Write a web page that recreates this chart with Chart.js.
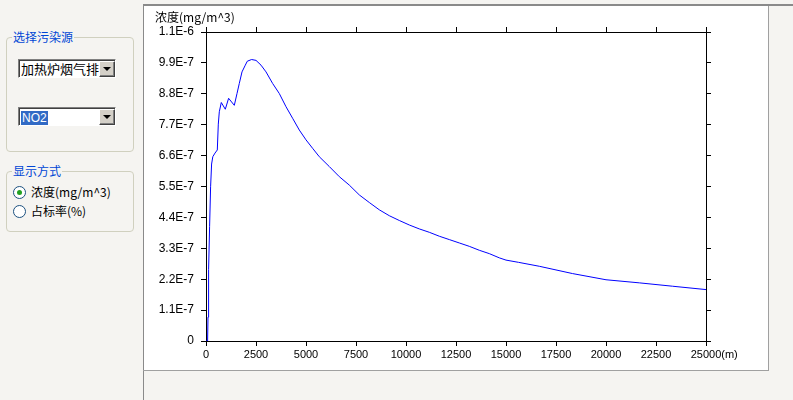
<!DOCTYPE html>
<html>
<head>
<meta charset="utf-8">
<script src="https://cdn.jsdelivr.net/npm/chart.js@4.4.1/dist/chart.umd.min.js"></script>
<style>
  html, body { margin: 0; padding: 0; }
  body {
    width: 793px; height: 400px; overflow: hidden; position: relative;
    background: #f5f4f1;
    font-family: "Noto Sans CJK SC", "Liberation Sans", Arial, sans-serif;
    font-size: 12px;
  }
  .group {
    position: absolute; left: 6px; width: 126px;
    border: 1px solid #d0d0bf; border-radius: 4px;
  }
  .group .caption {
    position: absolute; left: 5px; top: -9px; padding: 0 1px;
    background: #f5f4f1; color: #0046d5; line-height: 16px; font-size: 12px;
  }
  .combo {
    position: absolute; left: 18px; width: 96px; height: 17px;
    background: #fff;
    border-top: 1px solid #808080; border-left: 1px solid #808080;
    border-right: 1px solid #fff; border-bottom: 1px solid #fff;
    box-shadow: inset 1px 1px 0 #404040;
    overflow: hidden;
  }
  .combo .text {
    position: absolute; left: 2px; top: 0; line-height: 17px;
    white-space: nowrap; font-size: 13px; color: #000;
  }
  .combo .sel {
    background: #316ac5; color: #fff; font-family: "Liberation Sans", Arial, sans-serif;
    font-size: 12px; padding: 0 1px;
  }
  .combo .btn {
    position: absolute; right: 0; top: 1px; width: 14px; height: 14px;
    background: #d4d0c8;
    border-top: 1px solid #fff; border-left: 1px solid #fff;
    border-right: 1px solid #404040; border-bottom: 1px solid #404040;
    box-shadow: inset -1px -1px 0 #808080;
  }
  .combo .btn:after {
    content: ""; position: absolute; left: 3px; top: 5px;
    border-left: 4px solid transparent; border-right: 4px solid transparent;
    border-top: 4px solid #000;
  }
  .radio { position: absolute; left: 13px; height: 14px; }
  .radio .dot {
    position: absolute; left: 0; top: 0; width: 11px; height: 11px;
    border: 1px solid #1c5180; border-radius: 50%; background: #fff;
  }
  .radio .dot.on:after {
    content: ""; position: absolute; left: 3px; top: 3px; width: 5px; height: 5px;
    border-radius: 50%; background: #21a121;
  }
  .radio .lbl { position: absolute; left: 18px; top: -3px; line-height: 18px; white-space: nowrap; font-size: 12px; }
  #frameTop { position: absolute; left: 143px; top: 4px; width: 650px; height: 2px; background: #8a8a8a; }
  #frameLeft { position: absolute; left: 143px; top: 4px; width: 1px; height: 396px; background: #8a8a8a; }
  #frameBottom { position: absolute; left: 143px; top: 370px; width: 626px; height: 1px; background: #a0a0a0; }
  #panel {
    position: absolute; left: 144px; top: 6px; width: 624px; height: 364px;
    background: #fff; border-right: 1px solid #a0a0a0;
  }
  #chart { position: absolute; left: 0; top: 0; }
</style>
</head>
<body>

<div class="group" style="top:37px;height:113px;">
  <div class="caption">选择污染源</div>
</div>
<div class="combo" style="top:59px;">
  <div class="text">加热炉烟气排放</div>
  <div class="btn"></div>
</div>
<div class="combo" style="top:107px;">
  <div class="text"><span class="sel">NO2</span></div>
  <div class="btn"></div>
</div>

<div class="group" style="top:171px;height:59px;">
  <div class="caption">显示方式</div>
</div>
<div class="radio" style="top:186px;">
  <div class="dot on"></div><div class="lbl">浓度(mg/m^3)</div>
</div>
<div class="radio" style="top:205px;">
  <div class="dot"></div><div class="lbl">占标率(%)</div>
</div>

<div id="frameTop"></div>
<div id="frameLeft"></div>
<div id="frameBottom"></div>
<div id="panel"><canvas id="chart" width="624" height="364"></canvas></div>

<script>
// distance downwind (m)
const distances = [0, 80, 100, 130, 180, 230, 280, 340, 450, 565, 615, 665, 765, 965, 1130, 1415,
  1550, 1665, 1800, 1965, 2065, 2280, 2500, 2750, 3000, 3330, 3665, 4000, 4330, 4665, 5000,
  5330, 5665, 6165, 6665, 7165, 7665, 8165, 8665, 9165, 9665, 10165, 10665, 11165, 11665,
  12165, 12665, 13165, 13665, 14165, 14665, 15000, 15630, 16665, 18330, 20000, 21665, 23330, 25000];

// NO2 concentration (mg/m^3)
const concentrations = [0, 0, 8.5e-8, 2.54e-7, 4.07e-7, 5.49e-7, 6.30e-7, 6.56e-7, 6.69e-7, 6.80e-7,
  7.72e-7, 8.16e-7, 8.49e-7, 8.25e-7, 8.64e-7, 8.39e-7,
  8.81e-7, 9.17e-7, 9.58e-7, 9.82e-7, 9.96e-7, 1.002e-6, 9.99e-7, 9.82e-7, 9.58e-7, 9.17e-7, 8.81e-7,
  8.34e-7, 7.93e-7, 7.51e-7, 7.16e-7,
  6.86e-7, 6.56e-7, 6.21e-7, 5.85e-7, 5.55e-7, 5.20e-7, 4.93e-7, 4.67e-7, 4.46e-7, 4.29e-7,
  4.13e-7, 3.99e-7, 3.87e-7, 3.73e-7,
  3.61e-7, 3.49e-7, 3.37e-7, 3.23e-7, 3.11e-7, 2.96e-7, 2.88e-7, 2.80e-7, 2.66e-7, 2.40e-7,
  2.18e-7, 2.07e-7, 1.95e-7, 1.83e-7];

const xTicks = [0, 2500, 5000, 7500, 10000, 12500, 15000, 17500, 20000, 22500, 25000];
const yTickValues = [0, 1.1e-7, 2.2e-7, 3.3e-7, 4.4e-7, 5.5e-7, 6.6e-7, 7.7e-7, 8.8e-7, 9.9e-7, 1.1e-6];
const yTickLabels = ['0', '1.1E-7', '2.2E-7', '3.3E-7', '4.4E-7', '5.5E-7', '6.6E-7', '7.7E-7', '8.8E-7', '9.9E-7', '1.1E-6'];

const yTitle = '浓度(mg/m^3)';
const xUnit = '(m)';

Chart.defaults.font.family = 'Arial, "Liberation Sans", sans-serif';
Chart.defaults.font.size = 11;
Chart.defaults.color = '#000';

const axisGrid = { drawOnChartArea: false, drawTicks: true, tickLength: 5, color: '#000', lineWidth: 1 };
const axisBorder = { display: true, color: '#000', width: 1 };

const setXTicks = function(scale) { scale.ticks = xTicks.map(v => ({ value: v })); };
const setYTicks = function(scale) { scale.ticks = yTickValues.map(v => ({ value: v })); };

const labelsPlugin = {
  id: 'labelsPlugin',
  afterDraw: function(chart) {
    const ctx = chart.ctx;
    const xs = chart.scales.x;
    ctx.save();
    ctx.fillStyle = '#000';
    ctx.font = '12px "Noto Sans CJK SC", sans-serif';
    ctx.textBaseline = 'middle';
    ctx.textAlign = 'left';
    ctx.fillText(yTitle, 11, 11);

    ctx.font = '11px Arial, "Liberation Sans", sans-serif';
    const last = xTicks[xTicks.length - 1];
    const lastW = ctx.measureText(String(last)).width;
    ctx.fillText(xUnit, xs.getPixelForValue(last) + lastW / 2, xs.top + 5 + 2 + 7);
    ctx.restore();
  }
};

const config = {
  type: 'line',
  data: {
    datasets: [{
      label: 'NO2',
      data: distances.map((d, i) => ({ x: d, y: concentrations[i] })),
      borderColor: '#0000ff',
      borderWidth: 1,
      pointRadius: 0,
      tension: 0,
      fill: false
    }]
  },
  options: {
    responsive: false,
    animation: false,
    devicePixelRatio: 1,
    layout: { padding: 0 },
    plugins: {
      legend: { display: false },
      tooltip: { enabled: false },
      title: { display: false }
    },
    scales: {
      x: {
        type: 'linear', position: 'bottom', min: 0, max: 25000,
        afterBuildTicks: setXTicks,
        afterFit: function(s) { s.height = 29; },
        ticks: { autoSkip: false, maxRotation: 0, padding: 2, callback: v => String(v) },
        grid: axisGrid, border: axisBorder
      },
      x2: {
        type: 'linear', position: 'top', min: 0, max: 25000,
        afterBuildTicks: setXTicks,
        afterFit: function(s) { s.height = 26; },
        ticks: { display: false },
        grid: axisGrid, border: axisBorder
      },
      y: {
        type: 'linear', position: 'left', min: 0, max: 1.1e-6,
        afterBuildTicks: setYTicks,
        afterFit: function(s) { s.width = 62; },
        ticks: { autoSkip: false, padding: 7, font: { size: 12 }, callback: (v, i) => yTickLabels[i] },
        grid: axisGrid, border: axisBorder
      },
      y2: {
        type: 'linear', position: 'right', min: 0, max: 1.1e-6,
        afterBuildTicks: setYTicks,
        afterFit: function(s) { s.width = 62; },
        ticks: { display: false },
        grid: axisGrid, border: axisBorder
      }
    }
  },
  plugins: [labelsPlugin]
};

const concChart = new Chart(document.getElementById('chart'), config);
</script>
</body>
</html>
